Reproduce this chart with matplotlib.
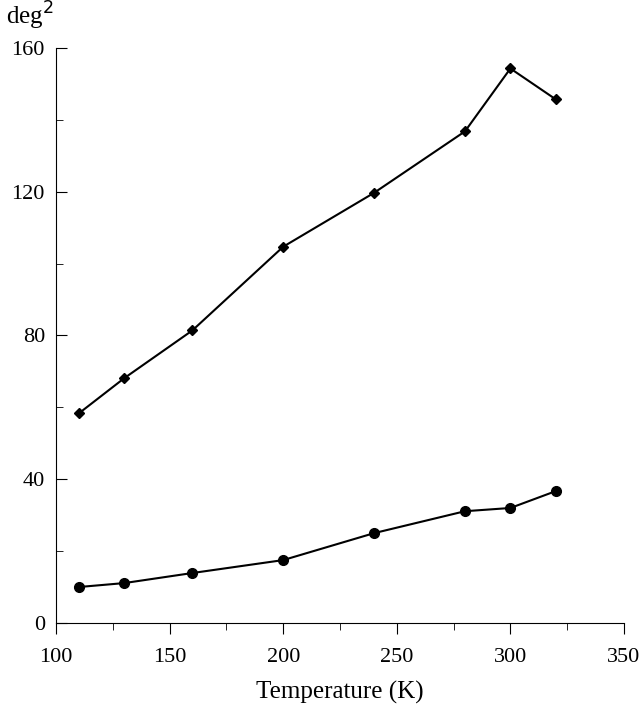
import matplotlib
matplotlib.use("Agg")
import matplotlib.pyplot as plt
from matplotlib.ticker import MultipleLocator

temps = [110, 130, 160, 200, 240, 280, 300, 320]
upper = [58.3, 68.1, 81.4, 104.7, 119.7, 136.8, 154.3, 145.7]
lower = [10.0, 11.1, 13.9, 17.5, 25.0, 31.1, 32.0, 36.7]

plt.rcParams['font.family'] = ['Liberation Serif', 'DejaVu Serif']
fig = plt.figure(figsize=(6.4, 7.06), dpi=100)
ax = fig.add_axes([0.0875, 0.1176, 0.8875, 0.8144])
ax.plot(temps, upper, color='black', marker='D', markersize=5, lw=1.5)
ax.plot(temps, lower, color='black', marker='o', markersize=7, lw=1.5)
ax.set_xlim(100, 350)
ax.set_ylim(0, 160)
ax.xaxis.set_major_locator(MultipleLocator(50))
ax.xaxis.set_minor_locator(MultipleLocator(25))
ax.yaxis.set_major_locator(MultipleLocator(40))
ax.yaxis.set_minor_locator(MultipleLocator(20))
ax.tick_params(which='both', direction='in', labelsize=16)
ax.tick_params(axis='x', which='both', direction='out')
ax.tick_params(axis='x', which='major', pad=10)
ax.tick_params(axis='y', which='major', pad=8)
ax.tick_params(which='major', length=8)
ax.tick_params(which='minor', length=5)
ax.spines['top'].set_visible(False)
ax.spines['right'].set_visible(False)
ax.set_xlabel('Temperature (K)', fontsize=18, labelpad=10)
fig.text(0.01, 0.955, 'deg$^2$', fontsize=18, ha='left', va='bottom')
fig.savefig('out.png', dpi=100)
